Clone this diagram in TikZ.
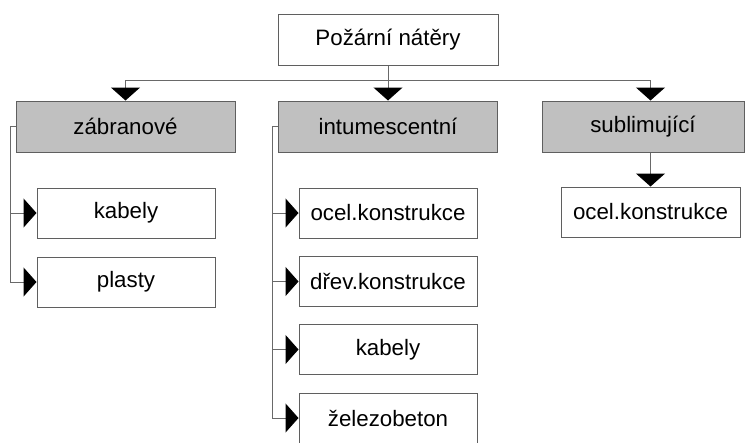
\documentclass[tikz,border=0pt]{standalone}
\usepackage{fontspec}
\setmainfont{Liberation Sans}
\usetikzlibrary{arrows.meta}
\definecolor{boxline}{RGB}{95,95,95}
\definecolor{connline}{RGB}{105,105,105}
\definecolor{grayfill}{RGB}{192,192,192}
\begin{document}
\begin{tikzpicture}[x=1pt,y=-1pt,
  font=\fontsize{22.3}{26}\selectfont,
  box/.style={draw=boxline, line width=1pt, fill=white, minimum width=178pt, minimum height=50pt, inner sep=0pt},
  catbox/.style={box, fill=grayfill, minimum height=51pt},
  conn/.style={draw=connline, line width=1pt},
  arr/.style={conn, -{Triangle[width=29pt,length=13pt,color=black]}}]
\clip (0,0) rectangle (747,442);
\useasboundingbox (0,0) rectangle (747,442);
% top
\node[box, minimum width=220pt, minimum height=51pt] (top) at (388,39.5) {Požární nátěry};
% categories
\node[catbox, minimum width=219pt] (zab) at (125.5,126.5) {zábranové};
\node[catbox, minimum width=219pt] (int) at (388,126.5) {intumescentní};
\node[catbox, minimum width=202pt] (sub) at (643,126.5) {sublimující};
% children
\node[box] (kab1) at (126,213) {kabely};
\node[box] (pla) at (126,282) {plasty};
\node[box] (oc1) at (388,213) {ocel.konstrukce};
\node[box] (dre) at (388,281.5) {dřev.konstrukce};
\node[box] (kab2) at (388,349.5) {kabely};
\node[box] (zel) at (388,418) {železobeton};
\node[box, minimum width=179pt] (oc2) at (650.5,212) {ocel.konstrukce};
% connectors
\draw[arr] (top.south) -- ++(0,15) -| (zab.north);
\draw[arr] (top.south) -- (int.north);
\draw[arr] (top.south) -- ++(0,15) -| (sub.north -| oc2.north);
\draw[arr] (zab.west) -- ++(-5,0) |- (kab1.west);
\draw[arr] (zab.west) -- ++(-5,0) |- (pla.west);
\draw[arr] (int.west) -- ++(-6,0) |- (oc1.west);
\draw[arr] (int.west) -- ++(-6,0) |- (dre.west);
\draw[arr] (int.west) -- ++(-6,0) |- (kab2.west);
\draw[arr] (int.west) -- ++(-6,0) |- (zel.west);
\draw[arr] (sub.south -| oc2.north) -- (oc2.north);
\end{tikzpicture}
\end{document}
